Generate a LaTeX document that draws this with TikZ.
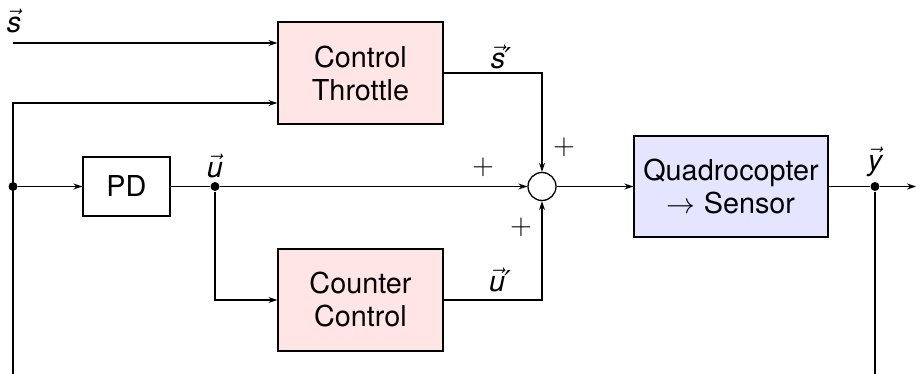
\documentclass[tikz,border=0pt]{standalone}
\usepackage{fontspec}
\setmainfont{TeX Gyre Heros}
\newfontfamily\dvfont{DejaVu Sans}
\usetikzlibrary{arrows.meta}
\newcommand{\vv}[1]{\vec{\mbox{\itshape #1}}}
\newcommand{\pr}{\mbox{\dvfont\itshape\kern-0.3pt ′}}
\begin{document}
\begin{tikzpicture}[x=0.5pt,y=-0.5pt,
  font=\fontsize{14.4}{16.5}\selectfont,
  line width=0.65pt,
  >={Stealth[length=4.5pt,width=3pt]},
  blk/.style={draw, line width=0.65pt, inner sep=0pt, align=center},
  redblk/.style={blk, fill=red!10, minimum width=82.5pt, minimum height=51pt},
  dotnode/.style={circle, fill=black, inner sep=0pt, minimum size=4.5pt},
  lbl/.style={inner sep=0pt}]
\useasboundingbox (0,0) rectangle (916,374);
% blocks
\node[redblk] (ct) at (360.5,73) {Control\\Throttle};
\node[redblk] (cc) at (360.5,300) {Counter\\Control};
\node[blk, minimum width=43.5pt, minimum height=29.5pt] (pd) at (126.5,186.5) {PD};
\node[draw, circle, line width=0.65pt, inner sep=0pt, minimum size=14pt] (sum) at (542,186.5) {};
\node[blk, fill=blue!10, minimum width=97pt, minimum height=50.5pt] (qs) at (731,186.5) {Quadrocopter\\$\rightarrow$ Sensor};
% junctions
\node[dotnode] (jl) at (13,186.5) {};
\node[dotnode] (du) at (215,186.5) {};
\node[dotnode] (dy) at (875,186.5) {};
% free ends
\coordinate (sin) at (13,43);
\coordinate (fbtop) at (13,103);
\coordinate (fbbot) at (13,374);
\coordinate (ybot) at (875,374);
\coordinate (yout) at (916,186.5);
\coordinate (ucorner) at (215,300);
\coordinate (scorner) at (542,73);
\coordinate (uccorner) at (542,300);
% connectors
\draw[->] (sin) -- (sin -| ct.west);
\draw[->] (fbbot) -- (fbtop) -- (fbtop -| ct.west);
\draw[->] (jl) -- (pd.west);
\draw (pd.east) -- (du);
\draw[->] (du) -- (sum.west);
\draw[->] (du) -- (ucorner) -- (cc.west);
\draw[->] (ct.east) -- (scorner) -- (sum.north);
\draw[->] (cc.east) -- (uccorner) -- (sum.south);
\draw[->] (sum.east) -- (qs.west);
\draw (qs.east) -- (dy);
\draw[->] (dy) -- (yout);
\draw (dy) -- (ybot);
% labels
\node[lbl] (ls) at (14,21) {$\vv{s}$};
\node[lbl] (lsp) at (501,57) {$\vv{s}\pr$};
\node[lbl] (lu) at (215,166) {$\vv{u}$};
\node[lbl] (lup) at (500,280) {$\vv{u}\pr$};
\node[lbl] (ly) at (875,162) {$\vv{y}$};
\node[lbl] (p1) at (483,167) {$+$};
\node[lbl] (p2) at (564,147) {$+$};
\node[lbl] (p3) at (521,227) {$+$};
\end{tikzpicture}
\end{document}
